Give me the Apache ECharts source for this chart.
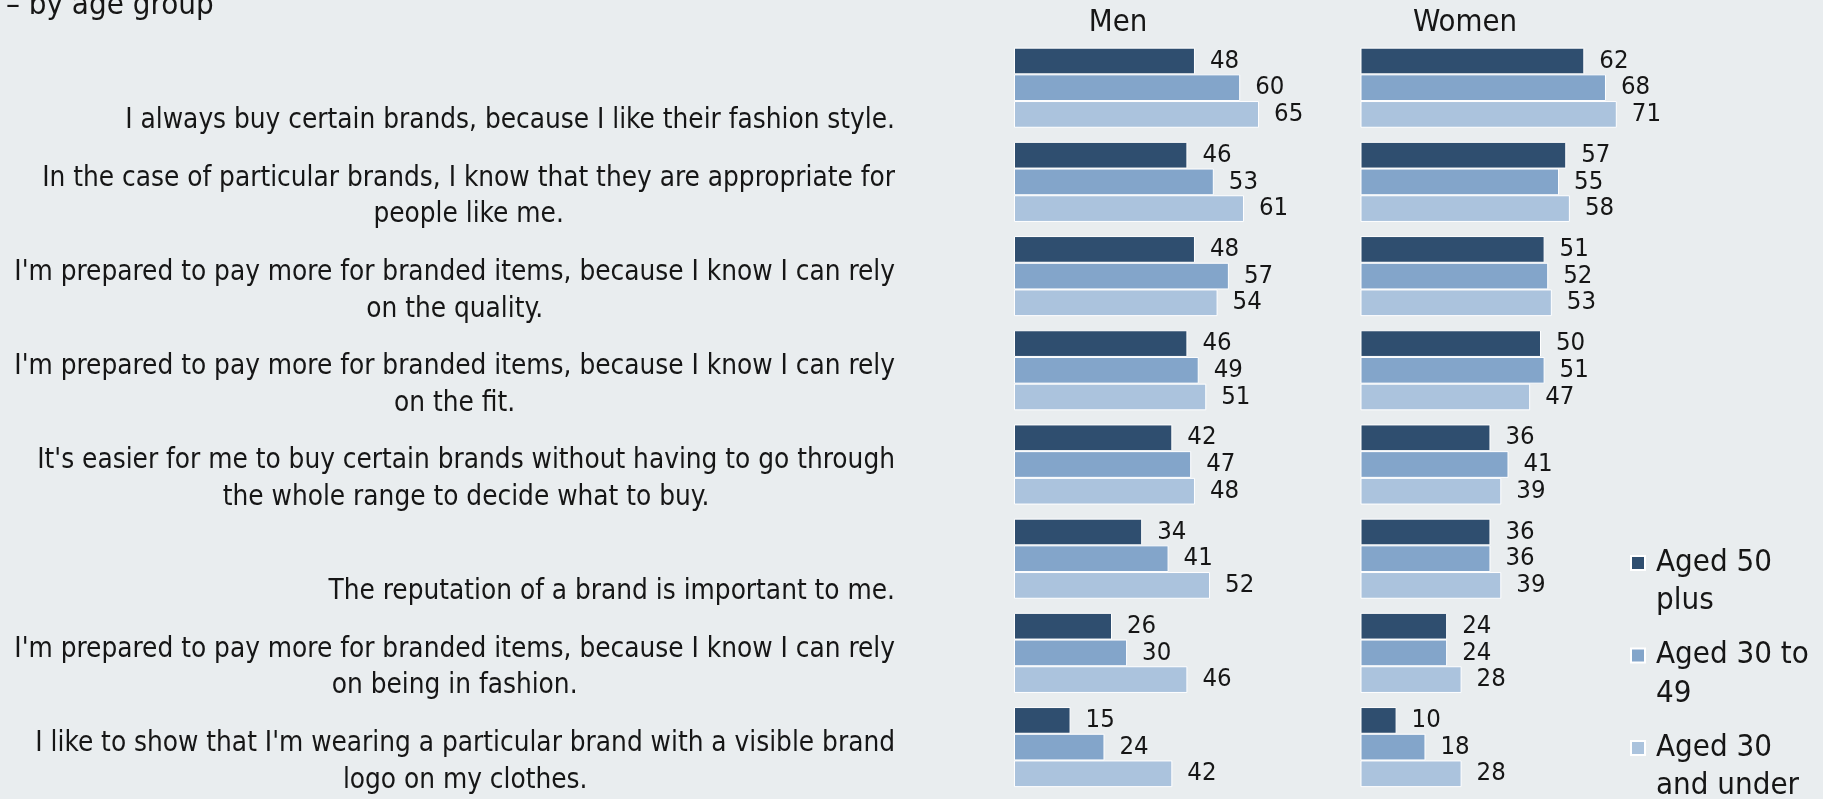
<!DOCTYPE html>
<html>
<head>
<meta charset="utf-8">
<script src="https://cdn.jsdelivr.net/npm/echarts@6/dist/echarts.min.js"></script>
<style>
html,body{margin:0;padding:0;background:#e9edef;}
#c{width:1823px;height:799px;}
</style>
</head>
<body>
<div id="c"></div>
<script>
// ---- data ----
const categories = [
  "I always buy certain brands, because I like their fashion style.",
  "In the case of particular brands, I know that they are appropriate for\npeople like me.",
  "I'm prepared to pay more for branded items, because I know I can rely\non the quality.",
  "I'm prepared to pay more for branded items, because I know I can rely\non the fit.",
  "It's easier for me to buy certain brands without having to go through\nthe whole range to decide what to buy.",
  "The reputation of a brand is important to me.",
  "I'm prepared to pay more for branded items, because I know I can rely\non being in fashion.",
  "I like to show that I'm wearing a particular brand with a visible brand\nlogo on my clothes."
];
const seriesNames = ["Aged 50 plus", "Aged 30 to 49", "Aged 30 and under"];
const legendLabels = ["Aged 50\nplus", "Aged 30 to\n49", "Aged 30\nand under"];
const panelTitles = ["Men", "Women"];
const chartSubtitle = "\u2013 by age group";

const men50plus   = [48, 46, 48, 46, 42, 34, 26, 15];
const men30to49   = [60, 53, 57, 49, 47, 41, 30, 24];
const men30under  = [65, 61, 54, 51, 48, 52, 46, 42];
const women50plus  = [62, 57, 51, 50, 36, 36, 24, 10];
const women30to49  = [68, 55, 52, 51, 41, 36, 24, 18];
const women30under = [71, 58, 53, 47, 39, 39, 28, 28];

// ---- styling ----
const FONT = "DejaVu Sans Condensed";
const TEXT = "#161616";
const colors = ["#2f4e6f", "#83a5ca", "#abc3dd"];
const panels = [
  {title: panelTitles[0], data: [men50plus, men30to49, men30under], left: 1014, width: 377, titleX: 1118},
  {title: panelTitles[1], data: [women50plus, women30to49, women30under], left: 1360.5, width: 361, titleX: 1465}
];
const gridTop = 40.6, gridHeight = 753.6;

const grids = [], xAxes = [], yAxes = [], series = [], titles = [];
titles.push({text: chartSubtitle, left: 6, top: -10, padding: 0,
  textStyle: {fontFamily: FONT, fontSize: 31, fontWeight: "normal", color: TEXT}});

panels.forEach((p, pi) => {
  grids.push({left: p.left, top: gridTop, width: p.width, height: gridHeight, containLabel: false});
  xAxes.push({type: "value", gridIndex: pi, min: 0, max: 100, show: false, splitLine: {show: false}});
  yAxes.push({
    type: "category", gridIndex: pi, data: categories, inverse: true,
    axisLine: {show: false}, axisTick: {show: false}, splitLine: {show: false},
    axisLabel: pi === 0 ? {
      show: true, interval: 0, margin: 119, align: "right", verticalAlign: "bottom",
      padding: [0, 0, -51.5, 0],
      fontFamily: FONT, fontSize: 27.7, lineHeight: 36.5, color: TEXT,
      formatter: v => v.split("\n").map(s => "{c|" + s + "}").join("\n"),
      rich: {c: {align: "center", fontFamily: FONT, fontSize: 27.7, lineHeight: 36.5, color: TEXT}}
    } : {show: false}
  });
  titles.push({text: p.title, left: p.titleX, top: 7.5, padding: 0, textAlign: "center",
    textStyle: {fontFamily: FONT, fontSize: 30.8, fontWeight: "normal", color: TEXT}});
  p.data.forEach((arr, si) => {
    series.push({
      type: "bar", name: seriesNames[si], xAxisIndex: pi, yAxisIndex: pi, data: arr,
      barWidth: 26.7, barGap: "0%",
      itemStyle: {color: colors[si], borderColor: "#ffffff", borderWidth: 1},
      label: {show: true, position: "right", distance: 15, fontFamily: FONT, fontSize: 25.5, color: TEXT},
      emphasis: {disabled: true}
    });
  });
});

const legendTops = [505.5, 598, 690.5];
const legends = seriesNames.map((n, i) => ({
  data: [n], left: 1630, top: legendTops[i], orient: "vertical", padding: 0, itemGap: 0,
  itemWidth: 14, itemHeight: 14, icon: "rect", selectedMode: false,
  formatter: name => " \n" + legendLabels[seriesNames.indexOf(name)],
  textStyle: {fontFamily: FONT, fontSize: 31, lineHeight: 38.3, color: TEXT, padding: [0, 0, 0, 6]}
}));

const chart = echarts.init(document.getElementById("c"), null, {renderer: "canvas"});
chart.setOption({
  backgroundColor: "#e9edef",
  animation: false,
  title: titles,
  legend: legends,
  grid: grids,
  xAxis: xAxes,
  yAxis: yAxes,
  series: series
});
</script>
</body>
</html>
